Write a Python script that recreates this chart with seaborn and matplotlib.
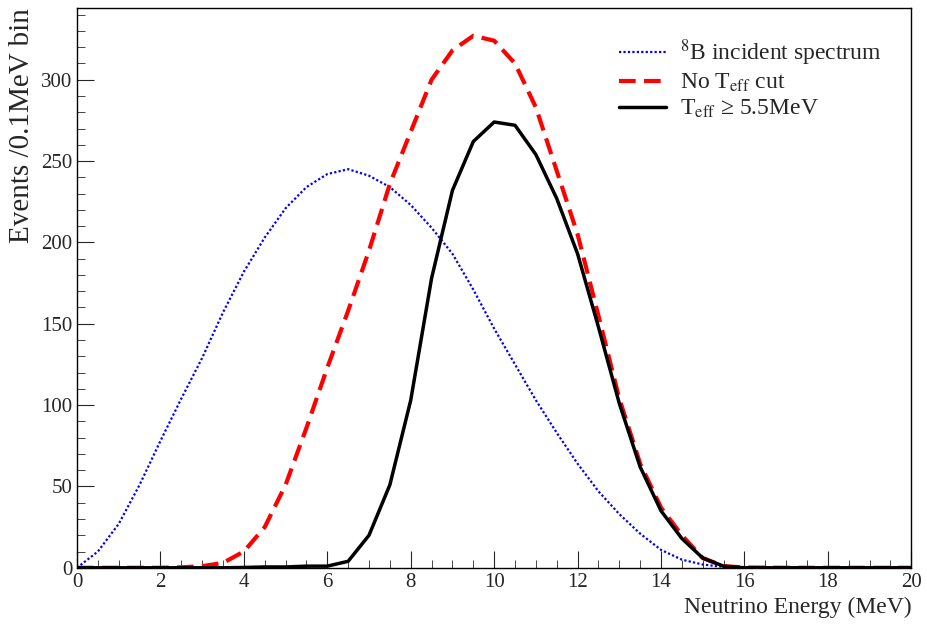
import matplotlib
matplotlib.use("Agg")
import matplotlib.pyplot as plt
import seaborn as sns
import pandas as pd
from matplotlib.ticker import MultipleLocator

sns.set_style("white")
plt.rcParams['font.family'] = ['Liberation Serif', 'DejaVu Serif']
plt.rcParams['mathtext.fontset'] = 'stix'

energy = [0,0.5,1,1.5,2,2.5,3,3.5,4,4.5,5,5.5,6,6.5,7,7.5,8,8.5,9,9.5,10,10.5,11,11.5,12,12.5,13,13.5,14,14.5,15,15.5,16,17,18,19,20]
incident = [0,10,27,51,78,104,129,157,182,203,221,234,242,245,241,234,223,209,193,171,147,125,103,83,64,47,33,21,11,5,2,0.5,0,0,0,0,0]
no_cut = [0,0,0,0,0,0.3,1,3,10,25,51,86,123,158,195,236,268,300,318,327,324,310,283,244,205,155,104,64,37,20,6,1,0.2,0,0,0,0]
with_cut = [0,0,0,0,0,0,0,0,0.2,0.5,0.5,1,1,4,20,51,103,178,232,262,274,272,254,227,193,148,101,62,35,18,6,1,0,0,0,0,0]

df = pd.DataFrame({"E": energy, "inc": incident, "nocut": no_cut, "cut": with_cut})

fig = plt.figure(figsize=(9.28, 6.26), dpi=100)
ax = fig.add_axes([0.083, 0.093, 0.899, 0.894])
sns.lineplot(data=df, x="E", y="inc", ax=ax, color="#0000ff", lw=1.6, linestyle=(0, (1, 1)),
             label=r"$^{8}$B incident spectrum")
sns.lineplot(data=df, x="E", y="nocut", ax=ax, color="#ff0000", lw=3, linestyle=(0, (4, 2)),
             label=r"No T$_{\mathrm{eff}}$ cut")
sns.lineplot(data=df, x="E", y="cut", ax=ax, color="black", lw=2.5,
             label=r"T$_{\mathrm{eff}}$ ≥ 5.5MeV")
ax.set_xlim(0, 20)
ax.set_ylim(0, 344)
ax.xaxis.set_major_locator(MultipleLocator(2))
ax.xaxis.set_minor_locator(MultipleLocator(0.5))
ax.yaxis.set_major_locator(MultipleLocator(50))
ax.yaxis.set_minor_locator(MultipleLocator(10))
ax.tick_params(which="both", direction="in", labelsize=15, bottom=True, left=True)
ax.tick_params(which="major", length=12)
ax.tick_params(which="minor", length=6)
for s in ax.spines.values():
    s.set_color("black"); s.set_linewidth(1)
ax.set_xlabel("Neutrino Energy (MeV)", fontsize=17, loc="right")
ax.set_ylabel("Events /0.1MeV bin", fontsize=21, loc="top")
ax.legend(loc="upper right", frameon=False, fontsize=17, handlelength=2.0,
          handletextpad=0.6, bbox_to_anchor=(0.99, 0.985), labelspacing=0.15)
fig.savefig("out.png", dpi=100)
